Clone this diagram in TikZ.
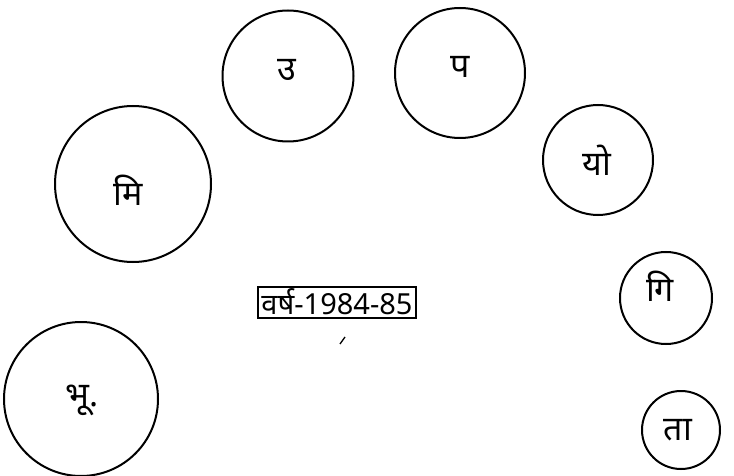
\documentclass[tikz,border=0pt]{standalone}
\usepackage{fontspec}
\newfontfamily\deva[Script=Devanagari]{Noto Sans}
\begin{document}
\begin{tikzpicture}[x=1pt,y=-1pt,
  ring/.style={draw=black,line width=2pt,circle,inner sep=0pt},
  lbl/.style={font=\deva\fontsize{34}{38}\selectfont,inner sep=0pt},
  yearbox/.style={draw=black,line width=2pt,inner sep=0pt,minimum width=158pt,minimum height=31pt,font=\deva\fontsize{29}{32}\selectfont}]
\useasboundingbox (0,0) rectangle (734,476);
\node[ring,minimum size=131pt] (cU) at (288,76) {};
\node[lbl] (tU) at (287,70) {उ};
\node[ring,minimum size=130pt] (cP) at (460,73) {};
\node[lbl] (tP) at (460,67) {प};
\node[ring,minimum size=156pt] (cMi) at (133,184) {};
\node[lbl] (tMi) at (128,190) {मि};
\node[ring,minimum size=110pt] (cYo) at (598,160) {};
\node[lbl] (tYo) at (597,160) {यो};
\node[ring,minimum size=92pt] (cGi) at (666,298) {};
\node[lbl] (tGi) at (660,286) {गि};
\node[ring,minimum size=78pt] (cTa) at (681,430) {};
\node[lbl] (tTa) at (678,430) {ता};
\node[ring,minimum size=154pt] (cBhu) at (81,399) {};
\node[lbl] (tBhu) at (82,400) {भू.};
\node[yearbox] (yr) at (337,302) {वर्ष-1984-85};
\draw[line width=1.3pt] (340,344) -- (345,337);
\end{tikzpicture}
\end{document}
